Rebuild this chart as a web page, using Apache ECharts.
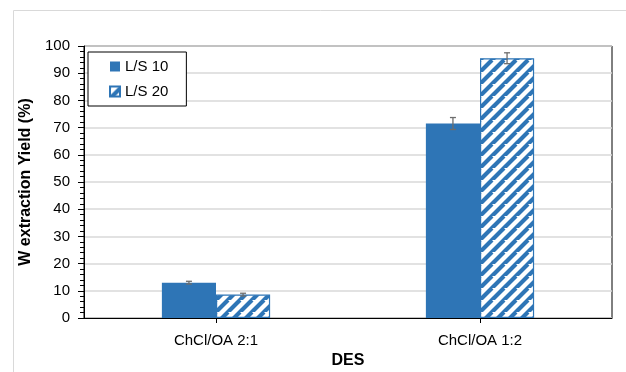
<!DOCTYPE html>
<html>
<head>
<meta charset="utf-8">
<script src="https://cdn.jsdelivr.net/npm/echarts@6/dist/echarts.min.js"></script>
<style>
  html, body { margin: 0; padding: 0; background: #fff; }
  #chart { width: 626px; height: 372px; }
</style>
</head>
<body>
<div id="chart"></div>
<script>
// Extraction yields for two deep eutectic solvents at two liquid/solid ratios
const categories = ['ChCl/OA 2:1', 'ChCl/OA 1:2'];
const seriesNames = ['L/S 10', 'L/S 20'];
const yieldLS10 = [13.0, 71.5];
const yieldLS20 = [8.6, 95.5];
const errLS10 = [0.5, 2.2];
const errLS20 = [0.5, 2.0];

const BLUE = '#2e75b6';
const FONT = '"Liberation Sans", Arial, sans-serif';

// Diagonal hatch fill for the second series
function makeHatch() {
  const s = 12;
  const c = document.createElement('canvas');
  c.width = s; c.height = s;
  const g = c.getContext('2d');
  g.fillStyle = '#fff';
  g.fillRect(0, 0, s, s);
  g.strokeStyle = BLUE;
  g.lineWidth = 4.2;
  g.beginPath();
  g.moveTo(-s, s); g.lineTo(0, 0);
  g.moveTo(0, s); g.lineTo(s, 0);
  g.moveTo(0, 2 * s); g.lineTo(2 * s, 0);
  g.stroke();
  return c;
}
const hatch = { image: makeHatch(), repeat: 'repeat' };

const CAT_GAP = 0.59;

// Error-bar renderer: sits centred on its bar (side -1 = left bar, +1 = right bar)
function errorRenderer(side) {
  return function (params, api) {
    const idx = api.value(0);
    const val = api.value(1);
    const err = api.value(2);
    const band = api.size([1, 0])[0];
    const barW = band * (1 - CAT_GAP) / 2;
    const hi = api.coord([idx, val + err]);
    const lo = api.coord([idx, val - err]);
    const x = hi[0] + side * barW / 2;
    const cap = 3;
    const style = { stroke: '#6d6d6d', lineWidth: 1.3 };
    return {
      type: 'group',
      children: [
        { type: 'line', shape: { x1: x, y1: hi[1], x2: x, y2: lo[1] }, style: style },
        { type: 'line', shape: { x1: x - cap, y1: hi[1], x2: x + cap, y2: hi[1] }, style: style },
        { type: 'line', shape: { x1: x - cap, y1: lo[1], x2: x + cap, y2: lo[1] }, style: style }
      ]
    };
  };
}

const chart = echarts.init(document.getElementById('chart'), null, { renderer: 'canvas' });

chart.setOption({
  animation: false,
  textStyle: { fontFamily: FONT },
  graphic: [{
    type: 'rect',
    shape: { x: 13.5, y: 10.5, width: 622, height: 372 },
    style: { fill: 'none', stroke: '#d9d9d9', lineWidth: 1 },
    silent: true, z: -10
  }],
  grid: {
    left: 84, right: 14, top: 46, bottom: 54,
    outerBoundsMode: 'none',
    containLabel: false,
    show: true, borderColor: '#000', borderWidth: 1, backgroundColor: 'transparent'
  },
  legend: {
    orient: 'vertical',
    left: 88, top: 52,
    data: seriesNames,
    icon: 'rect',
    itemWidth: 10, itemHeight: 10,
    itemGap: 10,
    padding: [7, 18, 7, 21],
    borderColor: '#000', borderWidth: 1,
    backgroundColor: '#fff',
    textStyle: { fontSize: 15, color: '#000', fontFamily: FONT }
  },
  xAxis: {
    type: 'category',
    data: categories,
    name: 'DES',
    nameLocation: 'middle',
    nameGap: 35,
    nameTextStyle: { fontSize: 16, fontWeight: 'bold', color: '#000' },
    axisLine: { lineStyle: { color: '#000', width: 1 } },
    axisTick: { show: true, alignWithLabel: true, length: 5, lineStyle: { color: '#000' } },
    axisLabel: { fontSize: 15, color: '#000', margin: 15 }
  },
  yAxis: {
    type: 'value',
    min: 0, max: 100, interval: 10,
    name: 'W extraction Yield (%)',
    nameLocation: 'middle',
    nameGap: 47,
    nameTextStyle: { fontSize: 16, fontWeight: 'bold', color: '#000' },
    axisLine: { show: true, lineStyle: { color: '#000', width: 1 } },
    axisTick: { show: true, length: 6, lineStyle: { color: '#000' } },
    minorTick: { show: true, splitNumber: 5, length: 4, lineStyle: { color: '#000' } },
    splitLine: { show: true, lineStyle: { color: '#d9d9d9', width: 1.5 } },
    axisLabel: { fontSize: 15, color: '#000', margin: 14 }
  },
  series: [
    {
      name: seriesNames[0],
      type: 'bar',
      data: yieldLS10,
      barGap: '0%',
      barCategoryGap: (CAT_GAP * 100) + '%',
      itemStyle: { color: BLUE }
    },
    {
      name: seriesNames[1],
      type: 'bar',
      data: yieldLS20,
      itemStyle: { color: hatch, borderColor: BLUE, borderWidth: 1.2 }
    },
    {
      type: 'custom',
      renderItem: errorRenderer(-1),
      data: yieldLS10.map((v, i) => [i, v, errLS10[i]]),
      z: 10, silent: true
    },
    {
      type: 'custom',
      renderItem: errorRenderer(1),
      data: yieldLS20.map((v, i) => [i, v, errLS20[i]]),
      z: 10, silent: true
    }
  ]
});
</script>
</body>
</html>
